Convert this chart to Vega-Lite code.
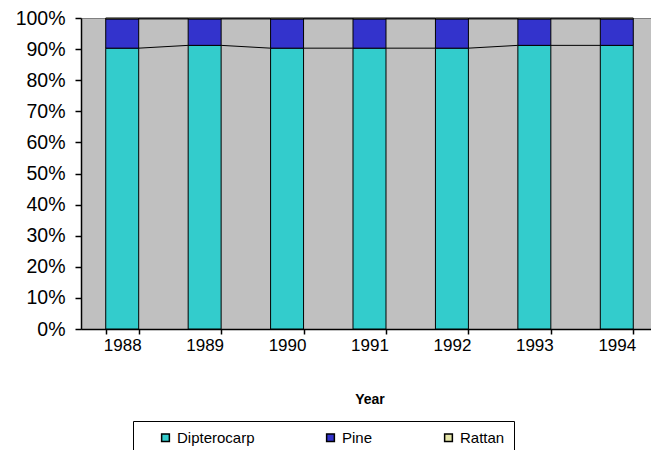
{
  "$schema": "https://vega.github.io/schema/vega-lite/v6.json",
  "autosize": "none",
  "width": 570,
  "height": 311,
  "padding": {"left": 81, "top": 18, "right": 0, "bottom": 121},
  "background": "white",
  "config": {
    "font": "Liberation Sans",
    "view": {"fill": "#C0C0C0", "stroke": "#808080", "strokeWidth": 1},
    "axisY": {
      "values": [0, 0.1, 0.2, 0.3, 0.4, 0.5, 0.6, 0.7, 0.8, 0.9, 1.0],
      "format": ".0%", "labelOverlap": false, "labelFontSize": 19.5, "labelColor": "black",
      "labelPadding": 10, "grid": false, "tickSize": 6, "tickColor": "black",
      "domainColor": "black", "domainWidth": 1.5, "tickWidth": 1.5, "title": null
    }
  },
  "datasets": {
    "bars": [
      {"Year": "1988", "Species": "Dipterocarp", "Share": 90.3},
      {"Year": "1988", "Species": "Pine", "Share": 9.4},
      {"Year": "1988", "Species": "Rattan", "Share": 0.3},
      {"Year": "1989", "Species": "Dipterocarp", "Share": 91.2},
      {"Year": "1989", "Species": "Pine", "Share": 8.5},
      {"Year": "1989", "Species": "Rattan", "Share": 0.3},
      {"Year": "1990", "Species": "Dipterocarp", "Share": 90.3},
      {"Year": "1990", "Species": "Pine", "Share": 9.4},
      {"Year": "1990", "Species": "Rattan", "Share": 0.3},
      {"Year": "1991", "Species": "Dipterocarp", "Share": 90.3},
      {"Year": "1991", "Species": "Pine", "Share": 9.4},
      {"Year": "1991", "Species": "Rattan", "Share": 0.3},
      {"Year": "1992", "Species": "Dipterocarp", "Share": 90.3},
      {"Year": "1992", "Species": "Pine", "Share": 9.4},
      {"Year": "1992", "Species": "Rattan", "Share": 0.3},
      {"Year": "1993", "Species": "Dipterocarp", "Share": 91.2},
      {"Year": "1993", "Species": "Pine", "Share": 8.5},
      {"Year": "1993", "Species": "Rattan", "Share": 0.3},
      {"Year": "1994", "Species": "Dipterocarp", "Share": 91.2},
      {"Year": "1994", "Species": "Pine", "Share": 8.5},
      {"Year": "1994", "Species": "Rattan", "Share": 0.3}
    ],
    "series": [
      {"Year": "1988", "Next": "1989", "From": 0.903, "To": 0.912},
      {"Year": "1989", "Next": "1990", "From": 0.912, "To": 0.903},
      {"Year": "1990", "Next": "1991", "From": 0.903, "To": 0.903},
      {"Year": "1991", "Next": "1992", "From": 0.903, "To": 0.903},
      {"Year": "1992", "Next": "1993", "From": 0.903, "To": 0.912},
      {"Year": "1993", "Next": "1994", "From": 0.912, "To": 0.912},
      {"Year": "1988", "Next": "1989", "From": 0.997, "To": 0.997},
      {"Year": "1989", "Next": "1990", "From": 0.997, "To": 0.997},
      {"Year": "1990", "Next": "1991", "From": 0.997, "To": 0.997},
      {"Year": "1991", "Next": "1992", "From": 0.997, "To": 0.997},
      {"Year": "1992", "Next": "1993", "From": 0.997, "To": 0.997},
      {"Year": "1993", "Next": "1994", "From": 0.997, "To": 0.997},
      {"Year": "1988", "Next": "1989", "From": 1.0, "To": 1.0},
      {"Year": "1989", "Next": "1990", "From": 1.0, "To": 1.0},
      {"Year": "1990", "Next": "1991", "From": 1.0, "To": 1.0},
      {"Year": "1991", "Next": "1992", "From": 1.0, "To": 1.0},
      {"Year": "1992", "Next": "1993", "From": 1.0, "To": 1.0},
      {"Year": "1993", "Next": "1994", "From": 1.0, "To": 1.0}
    ]
  },
  "layer": [
    {
      "data": {"name": "bars"},
      "mark": {"type": "bar", "stroke": "black", "strokeWidth": 1},
      "encoding": {
        "x": {
          "field": "Year", "type": "nominal", "sort": null,
          "scale": {"rangeMax": 577, "paddingInner": 0.6, "paddingOuter": 0.3},
          "axis": {
            "title": "Year", "titleFontWeight": "bold", "titleFontSize": 14, "titlePadding": 39,
            "labelAngle": 0, "labelFontSize": 17, "labelColor": "black", "labelPadding": 3,
            "tickBand": "extent", "tickSize": 5, "tickColor": "black", "domainColor": "black",
            "domainWidth": 1.5, "tickWidth": 1.5, "titleColor": "black"
          }
        },
        "y": {
          "field": "Share", "type": "quantitative", "stack": "normalize",
          "scale": {"domain": [0, 1], "nice": false},
          "axis": {"values": [0, 0.1, 0.2, 0.3, 0.4, 0.5, 0.6, 0.7, 0.8, 0.9, 1.0], "format": ".0%", "labelOverlap": false}
        },
        "color": {
          "field": "Species", "type": "nominal",
          "scale": {"domain": ["Dipterocarp", "Pine", "Rattan"], "range": ["#33CCCC", "#3333CC", "#E6E6A8"]},
          "legend": {
            "title": null, "orient": "none", "direction": "horizontal",
            "legendX": 52, "legendY": 403, "padding": 9,
            "strokeColor": "black",
            "symbolType": "square", "symbolSize": 60, "symbolStrokeColor": "black", "symbolStrokeWidth": 1.5,
            "labelFontSize": 15, "labelColor": "black", "columnPadding": 52, "symbolOffset": 16,
            "labelExpr": "datum.label == 'Rattan' ? 'Rattan\u00a0\u00a0\u00a0\u00a0\u00a0\u00a0\u00a0\u00a0\u00a0\u00a0' : datum.label"
          }
        },
        "order": {"field": "Species", "sort": "ascending"}
      }
    },
    {
      "data": {"name": "series"},
      "mark": {"type": "rule", "color": "black", "strokeWidth": 1, "xOffset": 16.5, "x2Offset": -16.5},
      "encoding": {
        "x": {"field": "Year", "type": "nominal", "sort": null},
        "x2": {"field": "Next"},
        "y": {"field": "From", "type": "quantitative", "axis": {"values": [0, 0.1, 0.2, 0.3, 0.4, 0.5, 0.6, 0.7, 0.8, 0.9, 1.0], "format": ".0%", "labelOverlap": false}},
        "y2": {"field": "To"}
      }
    }
  ]
}
